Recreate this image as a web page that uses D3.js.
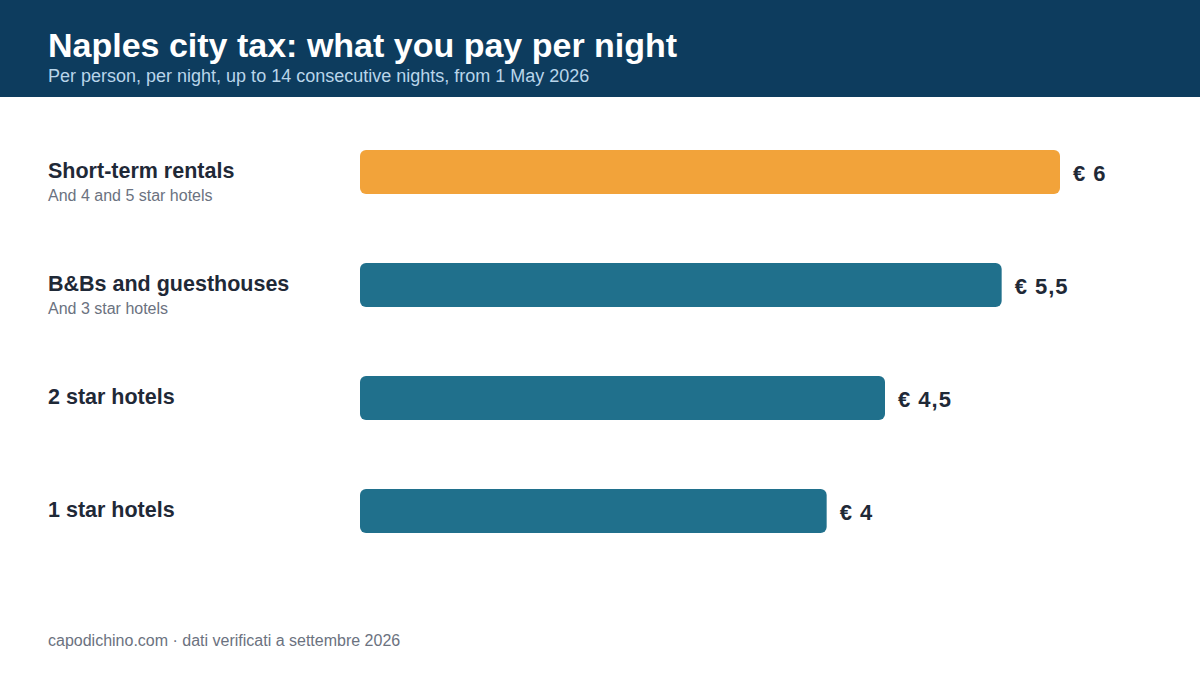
<!DOCTYPE html>
<html>
    <head>
        <meta charset="utf-8">
        <title>Naples city tax</title>
        <script type="text/javascript" src="https://d3js.org/d3.v7.min.js"></script>
        <style>
            body { margin: 0; background: #fff; }
            svg { display: block; font-family: "Liberation Sans", Arial, sans-serif; }
        </style>
    </head>
    <body>
        <script type="text/javascript">
            // data
            const categories = ['Short-term rentals', 'B&Bs and guesthouses', '2 star hotels', '1 star hotels'];
            const subLabels = ['And 4 and 5 star hotels', 'And 3 star hotels', '', ''];
            const taxValues = [6, 5.5, 4.5, 4];
            const valueLabels = ['€ 6', '€ 5,5', '€ 4,5', '€ 4'];
            const highlight = [true, false, false, false];

            const width = 1200;
            const height = 675;
            const barHeight = 44;

            const svg = d3.select('body')
                .append('svg')
                .attr('width', width)
                .attr('height', height);

            // header
            svg.append('rect')
                .attr('width', width)
                .attr('height', 97)
                .attr('fill', '#0d3c5e');

            svg.append('text')
                .attr('x', 48)
                .attr('y', 57)
                .attr('fill', '#ffffff')
                .attr('font-size', 34)
                .attr('font-weight', 'bold')
                .text('Naples city tax: what you pay per night');

            svg.append('text')
                .attr('x', 48)
                .attr('y', 82)
                .attr('fill', '#b9d5ea')
                .attr('font-size', 18)
                .text('Per person, per night, up to 14 consecutive nights, from 1 May 2026');

            // scales
            const x = d3.scaleLinear()
                .domain([0, 6])
                .range([360, 1060]);

            const y = d3.scalePoint()
                .domain(categories)
                .range([115.5, 567.5])
                .padding(0.5);

            const rows = svg.selectAll('g.row')
                .data(categories)
                .enter()
                .append('g')
                .attr('class', 'row');

            rows.append('rect')
                .attr('x', x(0))
                .attr('y', d => y(d) - barHeight / 2)
                .attr('width', (d, i) => x(taxValues[i]) - x(0))
                .attr('height', barHeight)
                .attr('rx', 6)
                .attr('fill', (d, i) => highlight[i] ? '#f2a33a' : '#20708c');

            rows.append('text')
                .attr('x', (d, i) => x(taxValues[i]) + 13)
                .attr('y', d => y(d) + 9)
                .attr('fill', '#1f2937')
                .attr('font-size', 22)
                .attr('font-weight', 'bold')
                .attr('letter-spacing', 1)
                .text((d, i) => valueLabels[i]);

            rows.append('text')
                .attr('x', 48)
                .attr('y', (d, i) => y(d) + (subLabels[i] ? 6 : 6))
                .attr('fill', '#1f2937')
                .attr('font-size', 21.5)
                .attr('font-weight', 'bold')
                .text(d => d);

            rows.filter((d, i) => subLabels[i])
                .append('text')
                .attr('x', 48)
                .attr('y', d => y(d) + 29)
                .attr('fill', '#6b7280')
                .attr('font-size', 16)
                .text(d => subLabels[categories.indexOf(d)]);

            // footer
            svg.append('text')
                .attr('x', 48)
                .attr('y', 646)
                .attr('fill', '#6b7280')
                .attr('font-size', 16)
                .text('capodichino.com · dati verificati a settembre 2026');
        </script>
    </body>
</html>
